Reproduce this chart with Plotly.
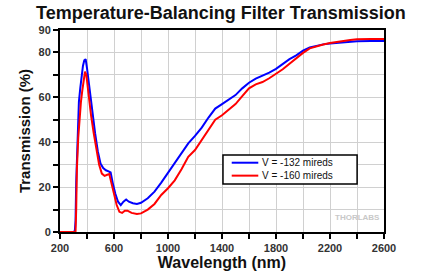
import plotly.graph_objects as go

wl_blue = [200, 300, 310, 315, 320, 330, 340, 350, 360, 370, 380, 390, 400, 420, 440, 460, 480, 500,
           520, 540, 560, 575, 590, 610, 630, 650, 670, 690, 710, 740, 770, 800, 850, 900, 950,
           1000, 1050, 1100, 1150, 1200, 1250, 1300, 1350, 1400, 1450, 1500, 1550, 1600, 1650,
           1700, 1750, 1800, 1850, 1900, 1950, 2000, 2050, 2100, 2150, 2200, 2250, 2300, 2350,
           2400, 2500, 2600]
t_blue = [0, 0, 0.5, 5, 22, 45, 58, 64, 70, 74, 76.5, 77, 73, 63, 53, 44, 36, 30.5,
          28.5, 27.5, 27, 26.5, 22, 17, 13.5, 12, 13.5, 14.5, 13.5, 12.8, 12.5, 13, 15, 18, 22,
          26.5, 31, 35.5, 39.5, 42.8, 46.5, 51, 55, 57, 59, 61, 64, 66.5, 68.3,
          69.6, 71, 72.7, 75, 77, 78.7, 80.8, 82.2, 83, 83.6, 84, 84.3, 84.7, 84.9,
          85, 85.1, 85.1]

wl_red = [200, 300, 315, 320, 325, 335, 345, 355, 365, 375, 385, 395, 410, 430, 450, 470, 490, 510,
          530, 550, 565, 580, 600, 620, 640, 660, 680, 700, 730, 770, 800, 850, 900, 950,
          1000, 1050, 1100, 1150, 1200, 1250, 1300, 1350, 1400, 1450, 1500, 1550, 1600, 1650,
          1700, 1750, 1800, 1850, 1900, 1950, 2000, 2050, 2100, 2150, 2200, 2250, 2300, 2350,
          2400, 2500, 2600]
t_red = [0, 0, 0, 10, 28, 42, 52, 58, 63, 68, 71.4, 70, 62, 52, 44, 37, 30, 26,
         25, 25.5, 25.8, 22, 16.5, 12, 9, 8.5, 9.5, 9.5, 8.5, 8, 8.3, 10, 12.5, 16.5,
         19.5, 23, 28, 33.5, 36.5, 41, 46, 50, 52, 54.5, 57, 60.5, 64, 65.8,
         66.8, 68.5, 70.5, 72.5, 75, 77.5, 79.8, 81.8, 82.8, 83.5, 84.2, 84.8, 85.1, 85.5,
         85.9, 86, 86]

names = ["V = -132 mireds", "V = -160 mireds"]
colors = ["#0000ff", "#ff0000"]
x_ticks = [200, 600, 1000, 1400, 1800, 2200, 2600]
y_ticks = [0, 20, 40, 60, 80, 90]

FONT = "Liberation Sans, Arial, sans-serif"

fig = go.Figure()
fig.add_trace(go.Scatter(x=wl_blue, y=t_blue, mode="lines", name=names[0],
                         line=dict(color=colors[0], width=2)))
fig.add_trace(go.Scatter(x=wl_red, y=t_red, mode="lines", name=names[1],
                         line=dict(color=colors[1], width=2)))

fig.update_layout(
    width=429, height=278,
    margin=dict(l=60, r=45, t=30, b=46),
    paper_bgcolor="white", plot_bgcolor="white",
    font=dict(family=FONT, color="#222"),
    title=dict(text="Temperature-Balancing Filter Transmission",
               x=0.515, xanchor="center", y=0.955, yanchor="middle",
               font=dict(size=18, weight="bold", color="#111", family=FONT)),
    showlegend=False,
)
fig.update_xaxes(
    range=[200, 2600], tickmode="array", tickvals=x_ticks, ticktext=[str(v) for v in x_ticks],
    showline=True, linecolor="black", linewidth=2, mirror=True,
    ticks="outside", ticklen=5, tickwidth=1.5, tickcolor="black",
    tickfont=dict(size=11, weight="bold", color="#333", family=FONT),
    showgrid=True, gridcolor="#d0d0d0", gridwidth=1, zeroline=False, automargin=False,
    minor=dict(dtick=200, tick0=200, ticks="outside", ticklen=5, tickwidth=1.5,
               tickcolor="black", showgrid=True, gridcolor="#d0d0d0", gridwidth=1),
    title=dict(text="Wavelength (nm)", standoff=4,
               font=dict(size=16, weight="bold", color="#111", family=FONT)),
)
fig.update_yaxes(
    range=[0, 90], tickmode="array", tickvals=y_ticks, ticktext=[str(v) for v in y_ticks],
    showline=True, linecolor="black", linewidth=2, mirror=True,
    ticks="outside", ticklen=5, tickwidth=1.5, tickcolor="black",
    tickfont=dict(size=11, weight="bold", color="#333", family=FONT),
    showgrid=True, gridcolor="#d0d0d0", gridwidth=1, zeroline=False, automargin=False,
    minor=dict(dtick=10, tick0=0, ticks="outside", ticklen=5, tickwidth=1.5,
               tickcolor="black", showgrid=True, gridcolor="#d0d0d0", gridwidth=1),
    title=dict(text="Transmission (%)", standoff=4,
               font=dict(size=15, weight="bold", color="#111", family=FONT)),
)

# legend box (drawn in paper coordinates)
fig.add_shape(type="rect", xref="paper", yref="paper", x0=0.503, x1=0.917, y0=0.238, y1=0.381,
              line=dict(color="black", width=1.5), fillcolor="white", layer="above")
leg_y = [0.343, 0.279]
for name, col, yy in zip(names, colors, leg_y):
    fig.add_shape(type="line", xref="paper", yref="paper", x0=0.530, x1=0.612, y0=yy, y1=yy,
                  line=dict(color=col, width=2), layer="above")
    fig.add_annotation(text=name, xref="paper", yref="paper", x=0.618, y=yy,
                       xanchor="left", yanchor="middle", showarrow=False,
                       font=dict(size=10, color="#111", family=FONT))

fig.add_annotation(text="THORLABS", xref="paper", yref="paper", x=0.995, y=0.07,
                   xanchor="right", yanchor="middle", showarrow=False,
                   font=dict(size=8, weight="bold", color="#c8c8c8", family=FONT))

fig.write_html("out.html", config={"displayModeBar": False},
               post_script="document.body.style.margin='0';")
